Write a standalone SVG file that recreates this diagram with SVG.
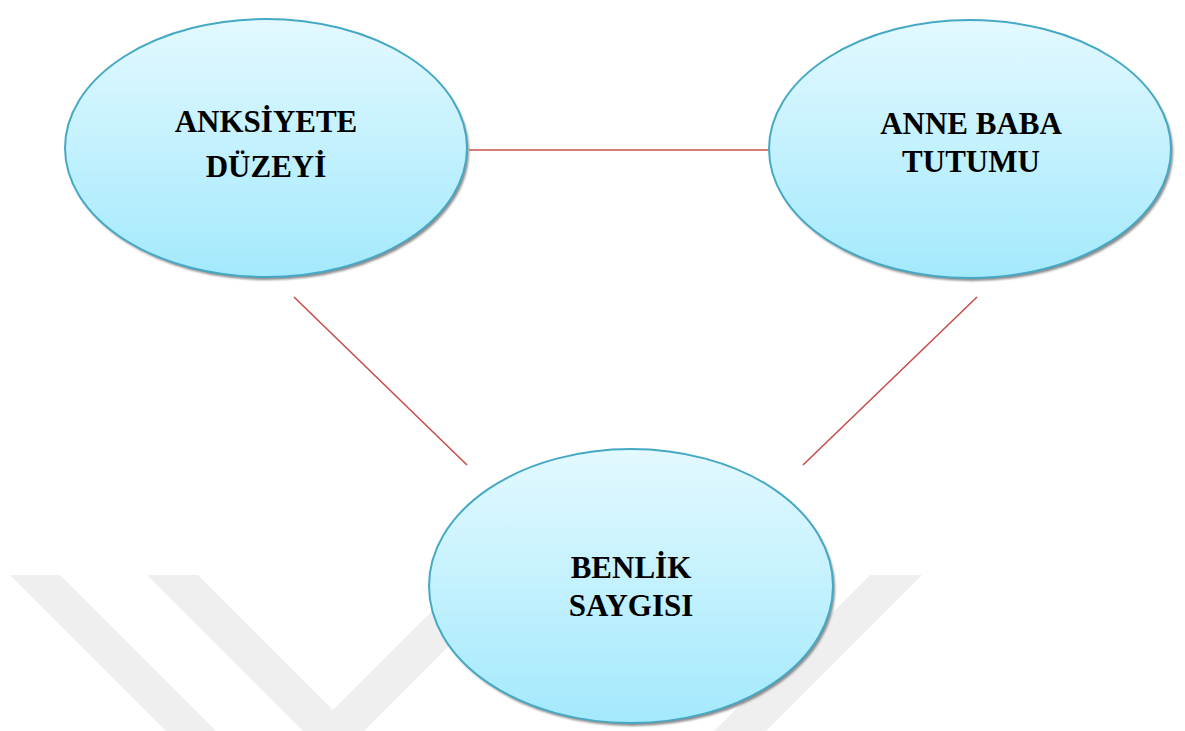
<svg xmlns="http://www.w3.org/2000/svg" width="1185" height="731" viewBox="0 0 1185 731">
  <defs>
    <linearGradient id="fillGrad" x1="0" y1="0" x2="0" y2="1">
      <stop offset="0" stop-color="#e3f9ff"/>
      <stop offset="1" stop-color="#a3e9fc"/>
    </linearGradient>
    <filter id="soft" x="-10%" y="-10%" width="120%" height="120%">
      <feGaussianBlur stdDeviation="1.2"/>
    </filter>
  </defs>
  <style>
    .wm { fill: #efefef; }
    .shadow { fill: #8c8c8c; filter: url(#soft); }
    .node { fill: url(#fillGrad); stroke: #45a9c6; stroke-width: 2; }
    .label { font-family: "Liberation Serif", "Times New Roman", serif; font-weight: bold; font-size: 31px; fill: #000; text-anchor: middle; }
    .conn { stroke: #c4504c; stroke-width: 1.6; fill: none; }
  </style>
  <rect width="1185" height="731" fill="#ffffff"/>
  <g id="watermark">
    <polygon class="wm" points="10,575 60,575 216,731 166,731"/>
    <polygon class="wm" points="147,575 198,575 333,710 468,575 520,575 364,731 303,731"/>
    <polygon class="wm" points="870,575 922,575 766,731 714,731"/>
  </g>
  <g id="connectors">
    <line class="conn" x1="469" y1="150" x2="769" y2="150"/>
    <line class="conn" x1="294" y1="297" x2="467" y2="465"/>
    <line class="conn" x1="977" y1="297" x2="803" y2="465"/>
  </g>
  <g id="node-anksiyete">
    <ellipse class="shadow" cx="268" cy="151" rx="201" ry="129"/>
    <ellipse class="node" cx="266" cy="148" rx="201" ry="129"/>
    <text class="label" x="266" y="132">ANKSİYETE</text>
    <text class="label" x="266" y="177">DÜZEYİ</text>
  </g>
  <g id="node-annebaba">
    <ellipse class="shadow" cx="972" cy="152" rx="201" ry="129"/>
    <ellipse class="node" cx="970" cy="149" rx="201" ry="129"/>
    <text class="label" x="971" y="134">ANNE BABA</text>
    <text class="label" x="971" y="172">TUTUMU</text>
  </g>
  <g id="node-benlik">
    <ellipse class="shadow" cx="633" cy="589" rx="202" ry="137"/>
    <ellipse class="node" cx="631" cy="586" rx="202" ry="137"/>
    <text class="label" x="631" y="578">BENLİK</text>
    <text class="label" x="631" y="616">SAYGISI</text>
  </g>
</svg>
